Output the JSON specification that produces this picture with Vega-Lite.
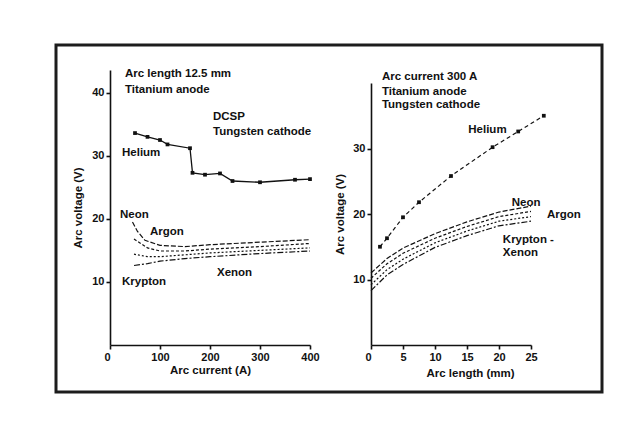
{
  "$schema": "https://vega.github.io/schema/vega-lite/v6.json",
  "width": 546,
  "height": 347,
  "autosize": {"type": "none"},
  "padding": {"left": 56, "top": 45, "right": 40, "bottom": 43},
  "background": "white",
  "config": {
    "view": {"stroke": "#1c1c1c", "strokeWidth": 3},
    "font": "Liberation Sans",
    "axis": {"grid": false, "domainColor": "#111", "domainWidth": 1.6, "tickColor": "#111", "tickWidth": 1.6, "tickSize": 4, "labelColor": "#111", "titleColor": "#111", "labelFont": "Liberation Sans", "titleFont": "Liberation Sans", "labelFontSize": 11, "labelFontWeight": "bold", "titleFontSize": 11.5, "titleFontWeight": "bold", "labelPadding": 2},
    "text": {"font": "Liberation Sans", "fontSize": 11.5, "fontWeight": "bold", "color": "#111"}
  },
  "datasets": {
    "leftHe": [
      {"I": 50, "V": 33.6}, {"I": 75, "V": 33.0}, {"I": 100, "V": 32.5}, {"I": 115, "V": 31.8},
      {"I": 160, "V": 31.2}, {"I": 165, "V": 27.3}, {"I": 190, "V": 27.0}, {"I": 220, "V": 27.2},
      {"I": 245, "V": 26.0}, {"I": 300, "V": 25.8}, {"I": 370, "V": 26.2}, {"I": 400, "V": 26.3}
    ],
    "leftGas": [
      {"gas": "Neon", "I": 45, "V": 19.5}, {"gas": "Neon", "I": 55, "V": 18.0}, {"gas": "Neon", "I": 70, "V": 16.6}, {"gas": "Neon", "I": 100, "V": 15.8}, {"gas": "Neon", "I": 150, "V": 15.6}, {"gas": "Neon", "I": 200, "V": 15.9}, {"gas": "Neon", "I": 300, "V": 16.3}, {"gas": "Neon", "I": 400, "V": 16.7},
      {"gas": "Argon", "I": 48, "V": 16.8}, {"gas": "Argon", "I": 75, "V": 15.4}, {"gas": "Argon", "I": 100, "V": 14.9}, {"gas": "Argon", "I": 150, "V": 14.9}, {"gas": "Argon", "I": 200, "V": 15.2}, {"gas": "Argon", "I": 300, "V": 15.6}, {"gas": "Argon", "I": 400, "V": 16.1},
      {"gas": "Krypton", "I": 48, "V": 14.4}, {"gas": "Krypton", "I": 75, "V": 14.0}, {"gas": "Krypton", "I": 100, "V": 14.0}, {"gas": "Krypton", "I": 150, "V": 14.3}, {"gas": "Krypton", "I": 200, "V": 14.6}, {"gas": "Krypton", "I": 300, "V": 15.0}, {"gas": "Krypton", "I": 400, "V": 15.4},
      {"gas": "Xenon", "I": 48, "V": 12.6}, {"gas": "Xenon", "I": 75, "V": 12.9}, {"gas": "Xenon", "I": 100, "V": 13.3}, {"gas": "Xenon", "I": 150, "V": 13.7}, {"gas": "Xenon", "I": 200, "V": 14.0}, {"gas": "Xenon", "I": 300, "V": 14.5}, {"gas": "Xenon", "I": 400, "V": 14.9}
    ],
    "rightHe": [
      {"L": 1.4, "V": 15.0}, {"L": 2.5, "V": 16.3}, {"L": 5, "V": 19.5}, {"L": 7.5, "V": 21.8},
      {"L": 12.5, "V": 25.8}, {"L": 19, "V": 30.2}, {"L": 23, "V": 32.6}, {"L": 27, "V": 35.0}
    ],
    "rightGas": [
      {"gas": "Neon", "L": 0, "V": 11.0}, {"gas": "Neon", "L": 2.5, "V": 13.2}, {"gas": "Neon", "L": 5, "V": 14.8}, {"gas": "Neon", "L": 10, "V": 17.0}, {"gas": "Neon", "L": 15, "V": 18.8}, {"gas": "Neon", "L": 20, "V": 20.3}, {"gas": "Neon", "L": 25, "V": 21.2},
      {"gas": "Argon", "L": 0, "V": 10.2}, {"gas": "Argon", "L": 2.5, "V": 12.4}, {"gas": "Argon", "L": 5, "V": 14.0}, {"gas": "Argon", "L": 10, "V": 16.3}, {"gas": "Argon", "L": 15, "V": 18.1}, {"gas": "Argon", "L": 20, "V": 19.6}, {"gas": "Argon", "L": 25, "V": 20.4},
      {"gas": "Krypton", "L": 0, "V": 9.2}, {"gas": "Krypton", "L": 2.5, "V": 11.5}, {"gas": "Krypton", "L": 5, "V": 13.1}, {"gas": "Krypton", "L": 10, "V": 15.6}, {"gas": "Krypton", "L": 15, "V": 17.4}, {"gas": "Krypton", "L": 20, "V": 18.9}, {"gas": "Krypton", "L": 25, "V": 19.6},
      {"gas": "Xenon", "L": 0, "V": 8.3}, {"gas": "Xenon", "L": 2.5, "V": 10.7}, {"gas": "Xenon", "L": 5, "V": 12.3}, {"gas": "Xenon", "L": 10, "V": 14.9}, {"gas": "Xenon", "L": 15, "V": 16.7}, {"gas": "Xenon", "L": 20, "V": 18.2}, {"gas": "Xenon", "L": 25, "V": 18.9}
    ],
    "leftLabels": [
      {"text": "Arc length 12.5 mm", "I": 30, "V": 42.9},
      {"text": "Titanium anode", "I": 30, "V": 40.5},
      {"text": "DCSP", "I": 206, "V": 36.2},
      {"text": "Tungsten cathode", "I": 206, "V": 33.8},
      {"text": "Helium", "I": 24, "V": 30.5},
      {"text": "Neon", "I": 20, "V": 20.6},
      {"text": "Argon", "I": 80, "V": 17.9},
      {"text": "Xenon", "I": 214, "V": 11.4},
      {"text": "Krypton", "I": 24, "V": 10.0}
    ],
    "rightLabels": [
      {"text": "Arc current 300 A", "L": 1.7, "V": 40.9},
      {"text": "Titanium anode", "L": 1.7, "V": 38.6},
      {"text": "Tungsten cathode", "L": 1.7, "V": 36.6},
      {"text": "Helium", "L": 15.2, "V": 32.8},
      {"text": "Neon", "L": 22, "V": 21.7},
      {"text": "Argon", "L": 27.5, "V": 19.8},
      {"text": "Krypton -", "L": 20.6, "V": 16.0},
      {"text": "Xenon", "L": 20.6, "V": 14.0}
    ]
  },
  "resolve": {"scale": {"x": "independent", "y": "independent", "strokeDash": "independent"}},
  "layer": [
    {
      "data": {"name": "leftHe"},
      "mark": {"type": "line", "color": "#111", "strokeWidth": 1.3, "point": {"shape": "square", "size": 14, "filled": true, "color": "#111"}},
      "encoding": {
        "x": {"field": "I", "type": "quantitative", "scale": {"domain": [0, 400], "range": [54, 254], "nice": false, "zero": false},
              "axis": {"orient": "bottom", "offset": -47, "values": [0, 100, 200, 300, 400], "title": "Arc current (A)", "titlePadding": 2,
                       "labelAlign": {"condition": {"test": "datum.value === 0", "value": "right"}, "value": "center"}}},
        "y": {"field": "V", "type": "quantitative", "scale": {"domain": [0, 43.6], "range": [300, 25], "nice": false, "zero": false},
              "axis": {"orient": "left", "offset": -54, "values": [10, 20, 30, 40], "title": "Arc voltage (V)", "titlePadding": 8}}
      }
    },
    {
      "data": {"name": "leftGas"},
      "mark": {"type": "line", "color": "#111", "strokeWidth": 1.2},
      "encoding": {
        "x": {"field": "I", "type": "quantitative", "scale": {"domain": [0, 400], "range": [54, 254], "nice": false, "zero": false}, "axis": null},
        "y": {"field": "V", "type": "quantitative", "scale": {"domain": [0, 43.6], "range": [300, 25], "nice": false, "zero": false}, "axis": null},
        "strokeDash": {"field": "gas", "type": "nominal", "scale": {"domain": ["Neon", "Argon", "Krypton", "Xenon"], "range": [[5, 2], [3, 2], [2, 2], [6, 2, 2, 2]]}, "legend": null}
      }
    },
    {
      "data": {"name": "leftLabels"},
      "mark": {"type": "text", "align": "left", "baseline": "middle"},
      "encoding": {
        "x": {"field": "I", "type": "quantitative", "scale": {"domain": [0, 400], "range": [54, 254], "nice": false, "zero": false}, "axis": null},
        "y": {"field": "V", "type": "quantitative", "scale": {"domain": [0, 43.6], "range": [300, 25], "nice": false, "zero": false}, "axis": null},
        "text": {"field": "text"}
      }
    },
    {
      "data": {"name": "rightHe"},
      "mark": {"type": "line", "color": "#111", "strokeWidth": 1.2, "strokeDash": [4, 3], "point": {"shape": "square", "size": 14, "filled": true, "color": "#111"}},
      "encoding": {
        "x": {"field": "L", "type": "quantitative", "scale": {"domain": [0, 25], "range": [315, 475], "nice": false, "zero": false},
              "axis": {"orient": "bottom", "offset": -47, "values": [0, 5, 10, 15, 20, 25], "title": "Arc length (mm)", "titlePadding": 5, "titleX": 414,
                       "labelAlign": {"condition": {"test": "datum.value === 0", "value": "right"}, "value": "center"}}},
        "y": {"field": "V", "type": "quantitative", "scale": {"domain": [0, 40], "range": [300, 38], "nice": false, "zero": false},
              "axis": {"orient": "left", "offset": -315, "values": [10, 20, 30], "title": "Arc voltage (V)", "titlePadding": 7}}
      }
    },
    {
      "data": {"name": "rightGas"},
      "mark": {"type": "line", "color": "#111", "strokeWidth": 1.2},
      "encoding": {
        "x": {"field": "L", "type": "quantitative", "scale": {"domain": [0, 25], "range": [315, 475], "nice": false, "zero": false}, "axis": null},
        "y": {"field": "V", "type": "quantitative", "scale": {"domain": [0, 40], "range": [300, 38], "nice": false, "zero": false}, "axis": null},
        "strokeDash": {"field": "gas", "type": "nominal", "scale": {"domain": ["Neon", "Argon", "Krypton", "Xenon"], "range": [[5, 2], [3, 2], [2, 2], [6, 2, 2, 2]]}, "legend": null}
      }
    },
    {
      "data": {"name": "rightLabels"},
      "mark": {"type": "text", "align": "left", "baseline": "middle"},
      "encoding": {
        "x": {"field": "L", "type": "quantitative", "scale": {"domain": [0, 25], "range": [315, 475], "nice": false, "zero": false}, "axis": null},
        "y": {"field": "V", "type": "quantitative", "scale": {"domain": [0, 40], "range": [300, 38], "nice": false, "zero": false}, "axis": null},
        "text": {"field": "text"}
      }
    }
  ]
}
